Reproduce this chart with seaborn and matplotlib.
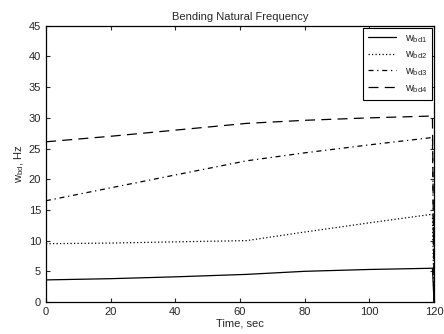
import matplotlib
matplotlib.use("Agg")
import matplotlib.pyplot as plt
import seaborn as sns
import pandas as pd

time = [0, 20, 40, 62, 80, 100, 119.5, 120]
wbd1 = [3.6, 3.8, 4.1, 4.5, 5.0, 5.3, 5.5, 0]
wbd2 = [9.5, 9.6, 9.8, 10.0, 11.4, 12.9, 14.3, 0]
wbd3 = [16.5, 18.6, 20.7, 23.0, 24.3, 25.6, 26.8, 0]
wbd4 = [26.1, 27.0, 28.0, 29.1, 29.6, 30.0, 30.3, 0]
labels = ["w$_{bd1}$", "w$_{bd2}$", "w$_{bd3}$", "w$_{bd4}$"]
series = [wbd1, wbd2, wbd3, wbd4]
styles = ["-", (0, (1, 1.8)), (0, (4, 3, 1, 3)), (0, (8, 5))]

sns.set_style("ticks")
plt.rcParams['font.family'] = ['Liberation Sans', 'DejaVu Sans']
plt.rcParams['mathtext.fontset'] = 'custom'
plt.rcParams['mathtext.rm'] = 'Liberation Sans'
plt.rcParams['mathtext.it'] = 'Liberation Sans'

fig = plt.figure(figsize=(4.44, 3.34), dpi=100)
ax = fig.add_axes([0.1036, 0.0958, 0.874, 0.827])

for lab, vals, ls in zip(labels, series, styles):
    df = pd.DataFrame({"t": time, "v": vals})
    sns.lineplot(data=df, x="t", y="v", ax=ax, color="black", linewidth=0.9,
                 linestyle=ls, label=lab, estimator=None, sort=False)

ax.set_xlim(0, 120)
ax.set_ylim(0, 45)
ax.set_xticks(range(0, 121, 20))
ax.set_yticks(range(0, 46, 5))
ax.tick_params(direction="in", top=True, right=True, labelsize=8, length=3, width=0.8)
for s in ax.spines.values():
    s.set_linewidth(0.9)
    s.set_color("black")
ax.set_title("Bending Natural Frequency", fontsize=8, pad=4)
ax.set_xlabel("Time, sec", fontsize=8, labelpad=1)
ax.set_ylabel("w$_{bd}$, Hz", fontsize=8, labelpad=2)
leg = ax.legend(loc="upper right", fontsize=7.8, frameon=True, fancybox=False,
                edgecolor="black", framealpha=1, borderaxespad=0.2,
                handlelength=2.6, labelspacing=0.45, borderpad=0.45)
leg.get_frame().set_linewidth(0.8)

fig.savefig("out.png", dpi=100)
